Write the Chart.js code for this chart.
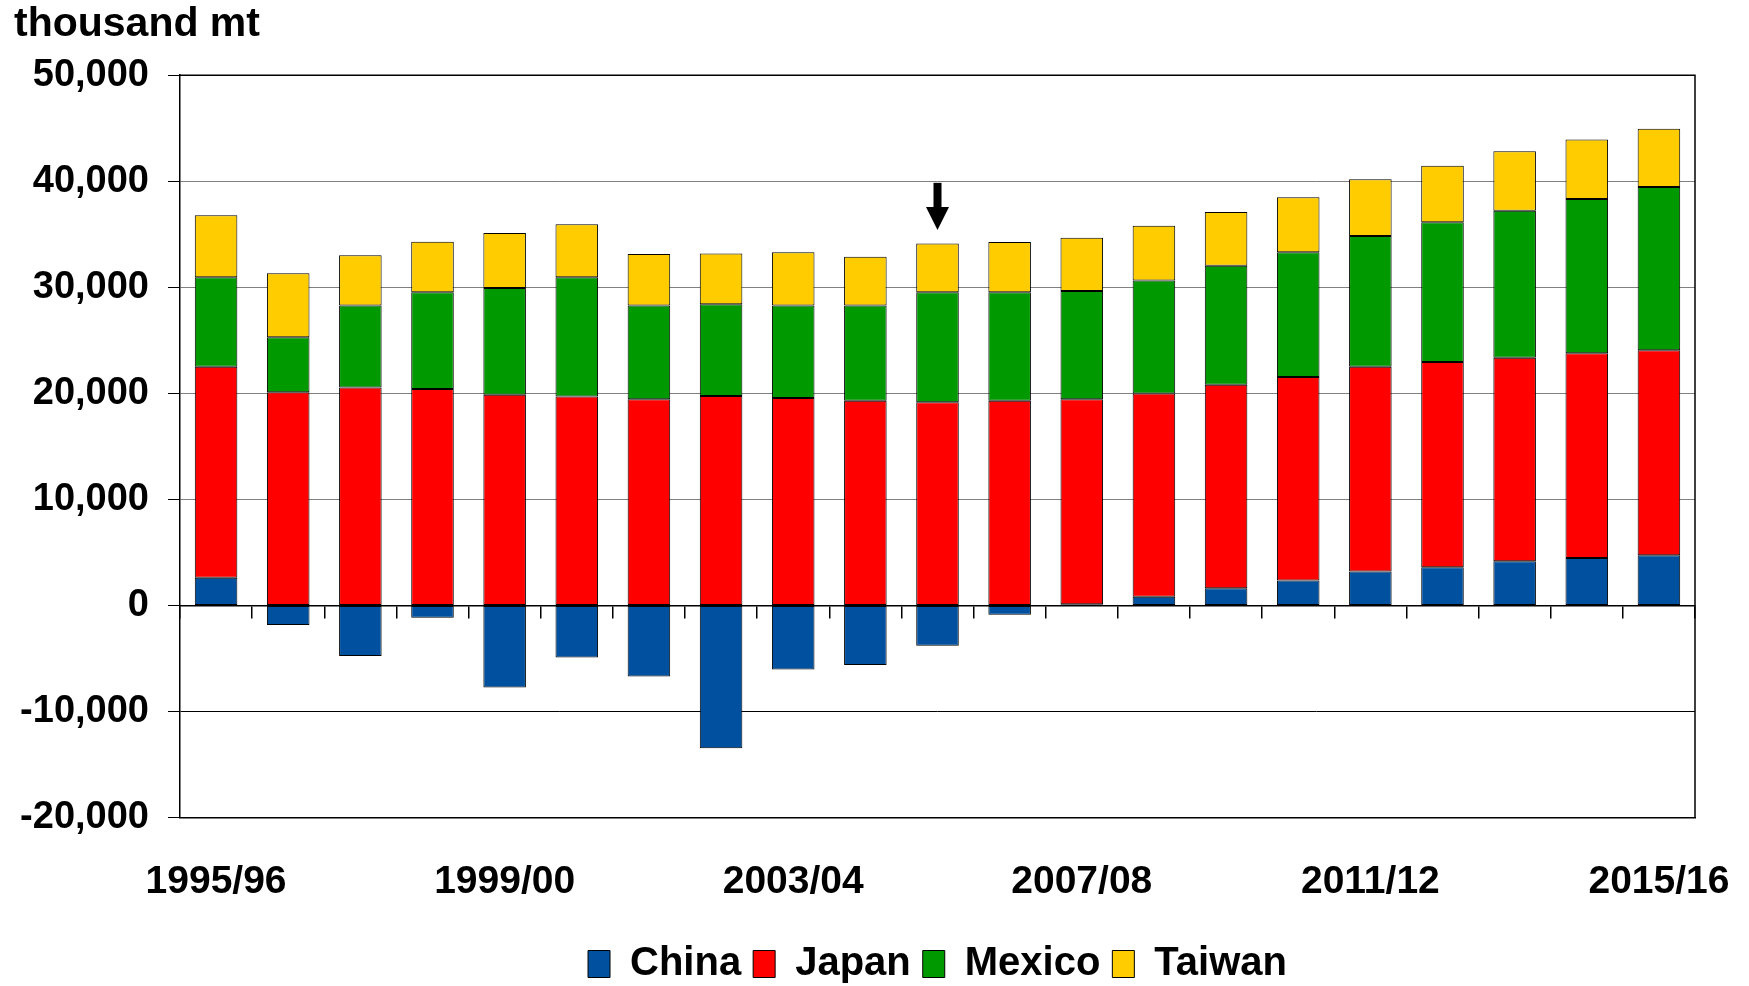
<!DOCTYPE html>
<html>
<head>
<meta charset="utf-8">
<script src="https://cdn.jsdelivr.net/npm/chart.js@4.4.1/dist/chart.umd.min.js"></script>
<style>
  html, body { margin: 0; padding: 0; background: #ffffff; }
  #wrap { width: 1749px; height: 986px; }
</style>
</head>
<body>
<div id="wrap"><canvas id="c" width="1749" height="986"></canvas></div>
<script>
// ---- data (thousand mt) ----
const categories = ['1995/96','1996/97','1997/98','1998/99','1999/00','2000/01','2001/02',
  '2002/03','2003/04','2004/05','2005/06','2006/07','2007/08','2008/09','2009/10',
  '2010/11','2011/12','2012/13','2013/14','2014/15','2015/16'];
const seriesNames = ['China', 'Japan', 'Mexico', 'Taiwan'];
const chinaValues  = [2600, -1850, -4770, -1160, -7750, -4900, -6710, -13470, -6050, -5620, -3800, -880, 120, 820, 1630, 2350, 3200, 3610, 4170, 4460, 4740];
const japanValues  = [19900, 20100, 20560, 20400, 19870, 19710, 19430, 19740, 19560, 19300, 19150, 19300, 19310, 19170, 19180, 19180, 19300, 19340, 19180, 19330, 19330];
const mexicoValues = [8450, 5200, 7720, 9140, 10070, 11240, 8850, 8670, 8720, 8980, 10390, 10240, 10230, 10640, 11230, 11780, 12340, 13180, 13870, 14530, 15380];
const taiwanValues = [5840, 6030, 4740, 4760, 5180, 4990, 4870, 4770, 5030, 4610, 4580, 4730, 5020, 5180, 5060, 5170, 5340, 5330, 5620, 5620, 5500];
const yMin = -20000, yMax = 50000, yStep = 10000;
const xLabelEvery = 4;
const unitLabel = 'thousand mt';
const arrowCategory = '2005/06';
const arrowFromValue = 39850, arrowToValue = 35400;

// ---- styles ----
const FONT = "'Liberation Sans', Arial, Helvetica, sans-serif";
Chart.defaults.font.family = FONT;
Chart.defaults.color = '#000';
const seriesColors = ['#0050A0', '#FF0000', '#009900', '#FFCC00'];
const seriesData = [chinaValues, japanValues, mexicoValues, taiwanValues];

const framePlugin = {
  id: 'frame',
  beforeDatasetsDraw(chart) {
    const { ctx, chartArea: a } = chart;
    ctx.save();
    ctx.strokeStyle = '#000';
    ctx.lineWidth = 1.5;
    ctx.beginPath();
    ctx.moveTo(a.left, a.top);
    ctx.lineTo(a.right, a.top);
    ctx.lineTo(a.right, a.bottom);
    ctx.stroke();
    ctx.restore();
  }
};

const arrowPlugin = {
  id: 'arrow',
  afterDatasetsDraw(chart) {
    const xs = chart.scales.x, ys = chart.scales.y, ctx = chart.ctx;
    const cx = xs.getPixelForValue(categories.indexOf(arrowCategory));
    const yTop = ys.getPixelForValue(arrowFromValue);
    const yTip = ys.getPixelForValue(arrowToValue);
    const headLen = (yTip - yTop) * 0.49;
    ctx.save();
    ctx.fillStyle = '#000';
    ctx.fillRect(cx - 4, yTop, 8, yTip - yTop - headLen + 1);
    ctx.beginPath();
    ctx.moveTo(cx - 11.5, yTip - headLen);
    ctx.lineTo(cx + 11.5, yTip - headLen);
    ctx.lineTo(cx, yTip);
    ctx.closePath();
    ctx.fill();
    ctx.restore();
  }
};

new Chart(document.getElementById('c'), {
  type: 'bar',
  data: {
    labels: categories,
    datasets: seriesNames.map((name, i) => ({
      label: name,
      data: seriesData[i],
      backgroundColor: seriesColors[i],
      borderColor: '#000',
      borderWidth: 1,
      borderSkipped: false,
      xAxisID: 'x',
      yAxisID: 'y'
    }))
  },
  options: {
    responsive: false,
    animation: false,
    devicePixelRatio: 1,
    layout: { padding: { left: 14, right: 54, top: 0, bottom: -8 } },
    datasets: { bar: { barPercentage: 0.59, categoryPercentage: 1.0 } },
    plugins: {
      title: {
        display: true, text: unitLabel, align: 'start', color: '#000',
        font: { size: 41, weight: 'bold' }, padding: { top: 0, bottom: 26 }
      },
      legend: {
        position: 'bottom', fullSize: false,
        labels: {
          boxWidth: 22, boxHeight: 27, padding: 12, color: '#000',
          font: { size: 40, weight: 'bold' }
        }
      },
      tooltip: { enabled: false }
    },
    scales: {
      x: {
        type: 'category', stacked: true, position: 'bottom', offset: true,
        grid: { display: false, offset: true },
        border: { display: true, color: '#000', width: 1.5 },
        ticks: {
          autoSkip: false, maxRotation: 0, minRotation: 0, padding: 33,
          color: '#000', font: { size: 39, weight: 'bold' },
          callback: (v, i) => (i % xLabelEvery === 0 ? categories[i] : '')
        },
        afterFit: s => { s.height = 114.5; s.paddingRight = 0; s.paddingLeft = 0; }
      },
      xz: {
        type: 'category', position: { y: 0 }, offset: true,
        grid: { offset: true, drawOnChartArea: false, drawTicks: true, tickLength: 12, color: '#000', lineWidth: 1.5 },
        border: { display: true, color: '#000', width: 1.5 },
        ticks: { display: false }
      },
      y: {
        stacked: true, min: yMin, max: yMax,
        ticks: {
          stepSize: yStep, padding: 19, color: '#000',
          font: { size: 38, weight: 'bold' },
          callback: v => Number(v).toLocaleString('en-US')
        },
        grid: {
          color: c => {
            const v = c.tick ? c.tick.value : 0;
            return (v <= 0 || v === yMax) ? '#000' : '#808080';
          },
          lineWidth: 1, tickLength: 12, tickColor: '#000', drawTicks: true
        },
        border: { display: true, color: '#000', width: 1.5 },
        afterFit: s => { s.width = 166; }
      }
    }
  },
  plugins: [framePlugin, arrowPlugin]
});
</script>
</body>
</html>
